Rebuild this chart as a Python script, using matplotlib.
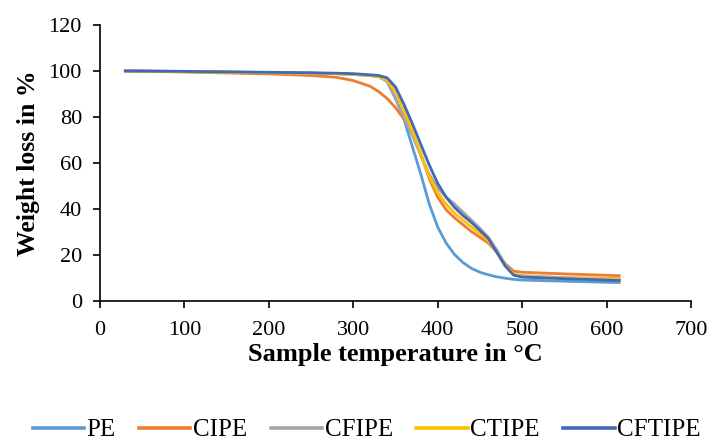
import matplotlib
matplotlib.use("Agg")
import matplotlib.pyplot as plt

temperature = [30, 100, 200, 250, 280, 300, 320, 330, 340, 350, 360, 370, 380, 390,
               400, 410, 420, 430, 440, 450, 460, 470, 480, 490, 500, 550, 615]

pe = [100, 99.8, 99.3, 99, 98.8, 98.5, 98, 97.5, 95.5, 88, 79, 67, 55, 42,
      32, 25, 20, 16.5, 14, 12.3, 11.2, 10.3, 9.7, 9.2, 8.9, 8.4, 7.8]
cipe = [100, 99.5, 98.7, 98, 97.2, 95.8, 93.3, 91, 88, 84, 79, 73, 64, 53,
        45, 39.5, 36, 33, 30, 27.5, 25, 21, 16, 12.8, 12.3, 11.6, 10.8]
cfipe = [100, 99.7, 99.2, 99, 98.8, 98.5, 98, 97.5, 95.5, 88, 80, 72, 63, 55,
         49, 45, 42, 38.5, 35, 31.5, 27.5, 22, 15.5, 11.5, 10.8, 10, 9.5]
ctipe = [100, 99.7, 99.2, 99, 98.8, 98.5, 98, 97.5, 96, 91, 83, 74, 64, 54,
         47, 42, 38, 35, 32, 29, 26, 21, 15, 11.5, 10.5, 9.8, 9.3]
cftipe = [100, 99.8, 99.4, 99.2, 99, 98.8, 98.3, 98, 97, 93, 85.5, 77, 68, 59,
          51, 45, 40.5, 37, 34, 30.5, 27, 21, 15, 11, 10.2, 9.5, 8.7]

series_names = ["PE", "CIPE", "CFIPE", "CTIPE", "CFTIPE"]
series_values = [pe, cipe, cfipe, ctipe, cftipe]
colors = ["#5B9BD5", "#ED7D31", "#A5A5A5", "#FFC000", "#4169B8"]

x_ticks = [0, 100, 200, 300, 400, 500, 600, 700]
y_ticks = [0, 20, 40, 60, 80, 100, 120]

plt.rcParams["font.family"] = ["Liberation Serif", "DejaVu Serif"]

fig = plt.figure(figsize=(7.12, 4.44), dpi=100)
ax = fig.add_axes([100 / 712, (444 - 300.5) / 444, 591 / 712, 275.5 / 444])

for name, vals, c in zip(series_names, series_values, colors):
    ax.plot(temperature, vals, color=c, lw=2.0, label=name)

ax.set_xlim(0, 700)
ax.set_ylim(0, 120)
ax.set_xticks(x_ticks)
ax.set_yticks(y_ticks)
ax.tick_params(labelsize=16, direction="out", length=5, width=1.2, color="black")
ax.tick_params(axis="y", pad=8)
ax.tick_params(axis="x", pad=10)
for s in ["top", "right"]:
    ax.spines[s].set_visible(False)
for s in ["left", "bottom"]:
    ax.spines[s].set_linewidth(1.2)

ax.set_xlabel("Sample temperature in \u00b0C", fontsize=19, fontweight="bold", labelpad=2)
ax.set_ylabel("Weight loss in %", fontsize=18.5, fontweight="bold", labelpad=6)

leg = fig.legend(loc="center", bbox_to_anchor=(0.515, (444 - 430) / 444), ncol=5,
                 frameon=False, fontsize=18, handlelength=2.05, columnspacing=0.95,
                 handletextpad=0.1, borderaxespad=0)
for line in leg.get_lines():
    line.set_linewidth(2.6)

fig.savefig("out.png", dpi=100)
